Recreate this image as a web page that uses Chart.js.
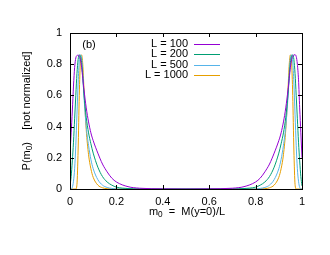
<!DOCTYPE html>
<html>
<head>
<meta charset="utf-8">
<script src="https://cdn.jsdelivr.net/npm/chart.js@4/dist/chart.umd.min.js"></script>
<style>
  html, body { margin: 0; padding: 0; background: #fff; }
  #wrap { width: 330px; height: 255px; }
</style>
</head>
<body>
<div id="wrap"><canvas id="myChart" width="330" height="255"></canvas></div>
<script>
// m0 grid (shared by all curves)
const mValues = [0, 0.005, 0.01, 0.015, 0.02, 0.025, 0.03, 0.035, 0.04, 0.045, 0.05, 0.055, 0.06, 0.07, 0.08, 0.09, 0.1, 0.12, 0.14, 0.16, 0.18, 0.2, 0.25, 0.3, 0.4,
  0.5,
  0.6, 0.7, 0.75, 0.8, 0.82, 0.84, 0.86, 0.88, 0.9, 0.91, 0.92, 0.93, 0.94, 0.945, 0.95, 0.955, 0.96, 0.965, 0.97, 0.975, 0.98, 0.985, 0.99, 0.995, 1];

const seriesLabels = ['L = 100', 'L = 200', 'L = 500', 'L = 1000'];
const seriesColors = ['#9400d3', '#009e73', '#56b4e9', '#e69f00'];

const pL100 = [0.23, 0.36, 0.5, 0.66, 0.78, 0.84, 0.855, 0.86, 0.85, 0.83, 0.78, 0.71, 0.64, 0.52, 0.43, 0.36, 0.31, 0.23, 0.16, 0.11, 0.07, 0.045, 0.015, 0.005, 0.001,
  0,
  0.001, 0.005, 0.015, 0.045, 0.07, 0.11, 0.16, 0.23, 0.31, 0.36, 0.43, 0.52, 0.64, 0.71, 0.78, 0.83, 0.85, 0.86, 0.86, 0.85, 0.8, 0.7, 0.52, 0.36, 0.2];
const pL200 = [0.02, 0.08, 0.18, 0.3, 0.45, 0.6, 0.74, 0.83, 0.86, 0.85, 0.81, 0.72, 0.61, 0.46, 0.36, 0.29, 0.23, 0.14, 0.08, 0.045, 0.025, 0.012, 0.003, 0, 0,
  0,
  0, 0, 0.003, 0.012, 0.025, 0.045, 0.08, 0.14, 0.23, 0.29, 0.36, 0.46, 0.61, 0.72, 0.81, 0.85, 0.86, 0.83, 0.74, 0.6, 0.45, 0.3, 0.18, 0.08, 0.02];
const pL500 = [0, 0, 0.01, 0.05, 0.13, 0.28, 0.48, 0.68, 0.82, 0.86, 0.84, 0.74, 0.6, 0.4, 0.28, 0.19, 0.13, 0.06, 0.025, 0.01, 0.004, 0, 0, 0, 0,
  0,
  0, 0, 0, 0, 0.004, 0.01, 0.025, 0.06, 0.13, 0.19, 0.28, 0.4, 0.6, 0.74, 0.84, 0.86, 0.82, 0.68, 0.48, 0.28, 0.13, 0.05, 0.01, 0, 0];
const pL1000 = [0, 0, 0, 0, 0, 0, 0.03, 0.25, 0.6, 0.82, 0.86, 0.8, 0.65, 0.38, 0.22, 0.13, 0.075, 0.025, 0.008, 0.002, 0, 0, 0, 0, 0,
  0,
  0, 0, 0, 0, 0, 0.002, 0.008, 0.025, 0.075, 0.13, 0.22, 0.38, 0.65, 0.8, 0.86, 0.82, 0.6, 0.25, 0.03, 0, 0, 0, 0, 0, 0];

const xTickValues = [0, 0.2, 0.4, 0.6, 0.8, 1];
const yTickValues = [0, 0.2, 0.4, 0.6, 0.8, 1];

const allSeries = [pL100, pL200, pL500, pL1000];
const FONT = '"Liberation Sans", Arial, sans-serif';

// draws text with "_0" style subscripts: parts = [[text, isSub], ...]
function drawRich(ctx, parts, x, y, size, align) {
  let total = 0;
  parts.forEach(p => {
    ctx.font = (p[1] ? size * 0.75 : size) + 'px ' + FONT;
    total += ctx.measureText(p[0]).width;
  });
  let cx = align === 'center' ? x - total / 2 : x;
  ctx.textAlign = 'left';
  ctx.textBaseline = 'middle';
  parts.forEach(p => {
    ctx.font = (p[1] ? size * 0.75 : size) + 'px ' + FONT;
    ctx.fillText(p[0], cx, p[1] ? y + 3 : y);
    cx += ctx.measureText(p[0]).width;
  });
}

const decorations = {
  id: 'decorations',
  afterDraw(chart) {
    const ctx = chart.ctx;
    const area = chart.chartArea;
    const xs = chart.scales.x;
    const ys = chart.scales.y;
    ctx.save();
    ctx.strokeStyle = '#000';
    ctx.lineWidth = 1;

    // inward ticks on all sides
    ctx.beginPath();
    xTickValues.forEach(v => {
      const px = Math.round(xs.getPixelForValue(v)) + 0.5;
      ctx.moveTo(px, area.bottom); ctx.lineTo(px, area.bottom - 4);
      ctx.moveTo(px, area.top); ctx.lineTo(px, area.top + 4);
    });
    yTickValues.forEach(v => {
      const py = Math.round(ys.getPixelForValue(v)) + 0.5;
      ctx.moveTo(area.left, py); ctx.lineTo(area.left + 4, py);
      ctx.moveTo(area.right, py); ctx.lineTo(area.right - 4, py);
    });
    ctx.stroke();

    // frame
    ctx.strokeRect(Math.round(area.left) + 0.5, Math.round(area.top) + 0.5,
      Math.round(area.right - area.left), Math.round(area.bottom - area.top));

    ctx.fillStyle = '#000';
    // panel label
    ctx.font = '11px ' + FONT;
    ctx.textAlign = 'center';
    ctx.textBaseline = 'middle';
    ctx.fillText('(b)', 89, 45);

    // legend
    chart.data.datasets.forEach((ds, i) => {
      const ly = 44 + i * 10.3;
      ctx.font = '11px ' + FONT;
      ctx.textAlign = 'right';
      ctx.textBaseline = 'middle';
      ctx.fillStyle = '#000';
      ctx.fillText(ds.label, 188, ly);
      ctx.strokeStyle = ds.borderColor;
      ctx.beginPath();
      ctx.moveTo(194, Math.round(ly) + 0.5);
      ctx.lineTo(220, Math.round(ly) + 0.5);
      ctx.stroke();
    });

    // axis titles
    ctx.fillStyle = '#000';
    drawRich(ctx, [['m', false], ['0', true], ['  =  M(y=0)/L', false]], 187, 212, 11, 'center');

    ctx.save();
    ctx.translate(27, 111);
    ctx.rotate(-Math.PI / 2);
    drawRich(ctx, [['P(m', false], ['0', true], [')    [not normalized]', false]], 0, 0, 11, 'center');
    ctx.restore();

    ctx.restore();
  }
};

const datasets = allSeries.map((vals, i) => ({
  label: seriesLabels[i],
  data: mValues.map((m, j) => ({ x: m, y: vals[j] })),
  borderColor: seriesColors[i],
  borderWidth: 1,
  pointRadius: 0,
  fill: false,
  cubicInterpolationMode: 'monotone'
}));

new Chart(document.getElementById('myChart'), {
  type: 'line',
  data: { datasets },
  options: {
    responsive: false,
    animation: false,
    layout: { padding: { left: 0, right: 28, top: 33, bottom: 0 } },
    plugins: { legend: { display: false }, tooltip: { enabled: false } },
    scales: {
      x: {
        type: 'linear',
        min: 0,
        max: 1,
        afterFit: s => { s.height = 66; },
        afterBuildTicks: s => { s.ticks = xTickValues.map(v => ({ value: v })); },
        grid: { display: false, drawTicks: false },
        border: { display: false },
        ticks: {
          color: '#000',
          padding: 6,
          maxRotation: 0,
          font: { family: FONT, size: 11 },
          callback: v => String(v)
        }
      },
      y: {
        min: 0,
        max: 1,
        afterFit: s => { s.width = 70; },
        afterBuildTicks: s => { s.ticks = yTickValues.map(v => ({ value: v })); },
        grid: { display: false, drawTicks: false },
        border: { display: false },
        ticks: {
          color: '#000',
          padding: 8,
          font: { family: FONT, size: 11 },
          callback: v => String(v)
        }
      }
    }
  },
  plugins: [decorations]
});
</script>
</body>
</html>
